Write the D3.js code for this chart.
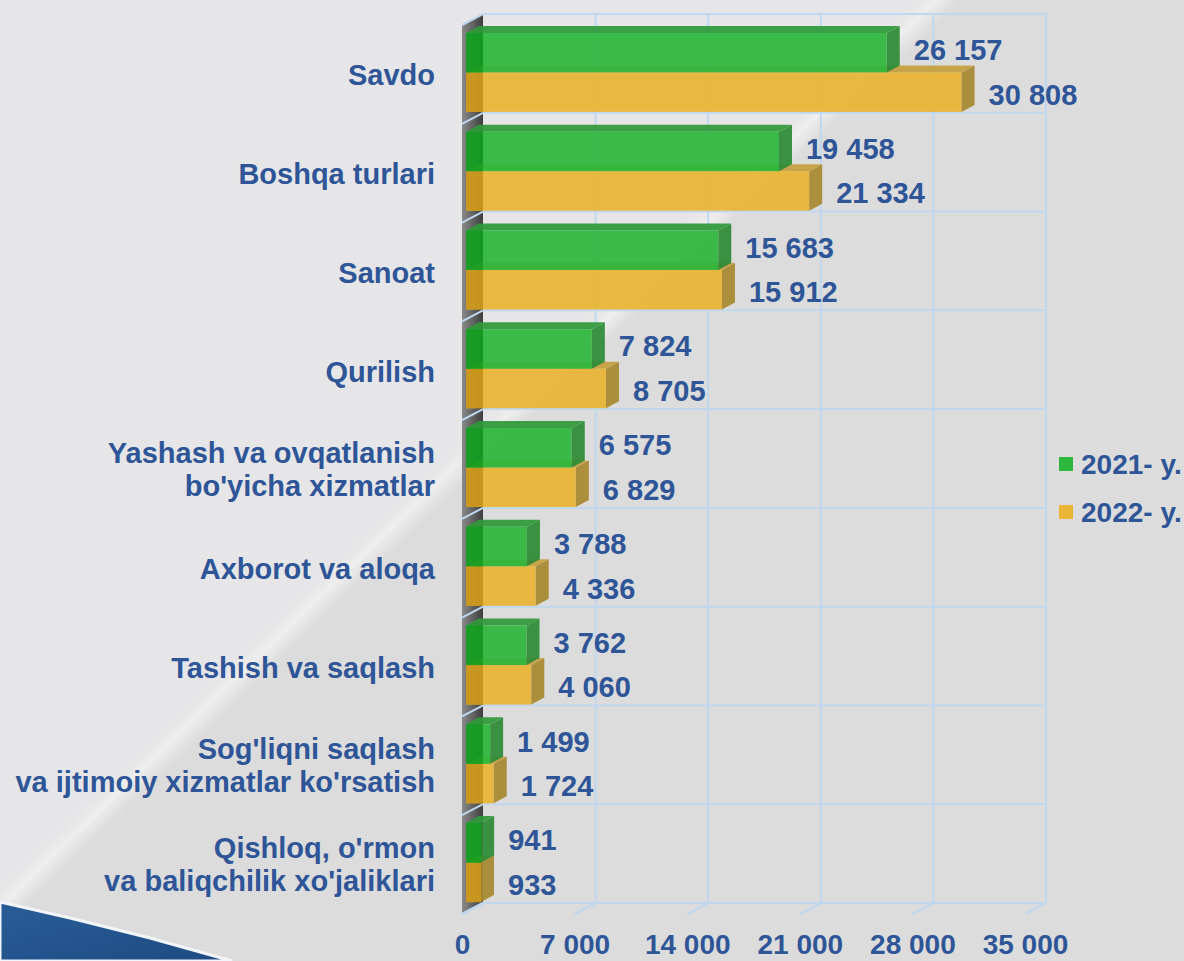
<!DOCTYPE html>
<html>
<head>
<meta charset="utf-8">
<script src="https://cdn.jsdelivr.net/npm/d3@7"></script>
<style>
body { margin: 0; background: #dcdcdc; overflow: hidden; }
text { font-family: "Liberation Sans", Arial, sans-serif; font-weight: bold; fill: #2e5597; }
</style>
</head>
<body>
<div id="chart-area"></div>
<script>
/*
*    3D bar chart, 2021 vs 2022
*/

var categories = [
    ["Savdo"],
    ["Boshqa turlari"],
    ["Sanoat"],
    ["Qurilish"],
    ["Yashash va ovqatlanish", "bo'yicha xizmatlar"],
    ["Axborot va aloqa"],
    ["Tashish va saqlash"],
    ["Sog'liqni saqlash", "va ijtimoiy xizmatlar ko'rsatish"],
    ["Qishloq, o'rmon", "va baliqchilik xo'jaliklari"]
]
var values2021 = [26157, 19458, 15683, 7824, 6575, 3788, 3762, 1499, 941]
var values2022 = [30808, 21334, 15912, 8705, 6829, 4336, 4060, 1724, 933]
var seriesNames = ["2021- y.", "2022- y."]
var tickValues = [0, 7000, 14000, 21000, 28000, 35000]

var width = 1184
var height = 961

// 3d offsets
var wall = {dx: 21, dy: 11}
var barShift = {dx: 4, dy: 2}
var barDepth = {dx: 13, dy: 7}

var colors = [
    {front: "#2eb73d", top: "#2f9a3a", side: "#2f8c37", dark: "#12a020"},
    {front: "#e9b534", top: "#c6a03e", side: "#a98a30", dark: "#d19b1a"}
]

var fmt = d3.formatLocale({decimal: ",", thousands: " ", grouping: [3], currency: ["", ""]}).format(",d")

var svg = d3.select("#chart-area").append("svg")
.attr("width", width)
.attr("height", height)

var defs = svg.append("defs")

var wallGrad = defs.append("linearGradient").attr("id", "wallGrad")
.attr("x1", "0").attr("x2", "1").attr("y1", "0").attr("y2", "0")
wallGrad.append("stop").attr("offset", "0").attr("stop-color", "#8a8a8a")
wallGrad.append("stop").attr("offset", "1").attr("stop-color", "#3e3e3e")

var blur = defs.append("filter").attr("id", "blur").attr("x", "-20%").attr("y", "-20%").attr("width", "140%").attr("height", "140%")
blur.append("feGaussianBlur").attr("stdDeviation", 6)

var cornerGrad = defs.append("linearGradient").attr("id", "cornerGrad")
.attr("x1", "0").attr("x2", "1").attr("y1", "0").attr("y2", "1")
cornerGrad.append("stop").attr("offset", "0").attr("stop-color", "#2a5d98")
cornerGrad.append("stop").attr("offset", "1").attr("stop-color", "#1d4b82")

// BACKGROUND
svg.append("rect").attr("width", width).attr("height", height).attr("fill", "#dcdcdc")
svg.append("polygon")
.attr("points", "0,0 940,0 0,910")
.attr("fill", "#e6e6e8")
svg.append("line")
.attr("x1", 950).attr("y1", -10).attr("x2", -10).attr("y2", 920)
.attr("stroke", "#f4f4f4")
.attr("stroke-width", 12)
.attr("opacity", 0.8)
.attr("filter", "url(#blur)")
svg.append("polygon")
.attr("points", "0,902 70,918 150,938 232,961 0,961")
.attr("fill", "url(#cornerGrad)")
.attr("stroke", "#f2f6fb")
.attr("stroke-width", 3)

// SCALES
var x = d3.scaleLinear()
.domain([0, 35000])
.range([483, 1046])

var y = d3.scaleBand()
.domain(d3.range(categories.length))
.range([14, 903])
.paddingInner(0.2)
.paddingOuter(0.1)

var ySeries = d3.scaleBand()
.domain([0, 1])
.range([0, y.bandwidth()])

var top0 = y.range()[0]
var bottom0 = y.range()[1]
var step = y.step()

var g = svg.append("g")

// left wall
g.append("polygon")
.attr("points", [
    [x(0) - wall.dx, top0 + wall.dy],
    [x(0), top0],
    [x(0), bottom0],
    [x(0) - wall.dx, bottom0 + wall.dy]
].join(" "))
.attr("fill", "url(#wallGrad)")

// GRID
var gridColor = "#bfd8f0"
var rows = d3.range(categories.length + 1).map(i => top0 + i * step)

g.selectAll(".hgrid").data(rows).enter().append("line")
.attr("class", "hgrid")
.attr("x1", x(0)).attr("x2", x(35000))
.attr("y1", d => d).attr("y2", d => d)
.attr("stroke", gridColor).attr("stroke-width", 2)

g.selectAll(".wgrid").data(rows).enter().append("line")
.attr("class", "wgrid")
.attr("x1", x(0)).attr("x2", x(0) - wall.dx)
.attr("y1", d => d).attr("y2", d => d + wall.dy)
.attr("stroke", gridColor).attr("stroke-width", 2)

g.selectAll(".vgrid").data(tickValues.slice(1)).enter().append("line")
.attr("class", "vgrid")
.attr("x1", d => x(d)).attr("x2", d => x(d))
.attr("y1", top0).attr("y2", bottom0)
.attr("stroke", gridColor).attr("stroke-width", 2)

g.selectAll(".fgrid").data(tickValues).enter().append("line")
.attr("class", "fgrid")
.attr("x1", d => x(d)).attr("x2", d => x(d) - wall.dx)
.attr("y1", bottom0).attr("y2", bottom0 + wall.dy)
.attr("stroke", gridColor).attr("stroke-width", 2)

// BARS
var bx = v => x(v) - wall.dx + barShift.dx
var by = i => y(i) + wall.dy - barShift.dy

var bars = []
categories.forEach((c, i) => {
    bars.push({cat: i, s: 1, value: values2022[i]})
    bars.push({cat: i, s: 0, value: values2021[i]})
})

bars.forEach(d => {
    var x0 = bx(0)
    var x1 = bx(d.value)
    var y0 = by(d.cat) + ySeries(d.s)
    var h = ySeries.bandwidth()
    var c = colors[d.s]
    var bg = g.append("g").attr("opacity", 0.93)

    bg.append("polygon")
    .attr("points", [[x0, y0], [x1, y0], [x1 + barDepth.dx, y0 - barDepth.dy], [x0 + barDepth.dx, y0 - barDepth.dy]].join(" "))
    .attr("fill", c.top)

    bg.append("rect")
    .attr("x", x0).attr("y", y0)
    .attr("width", x1 - x0).attr("height", h)
    .attr("fill", c.front)

    bg.append("rect")
    .attr("x", x0).attr("y", y0)
    .attr("width", Math.min(x1, x(0)) - x0).attr("height", h)
    .attr("fill", c.dark)

    bg.append("polygon")
    .attr("points", [[x1, y0], [x1 + barDepth.dx, y0 - barDepth.dy], [x1 + barDepth.dx, y0 + h - barDepth.dy], [x1, y0 + h]].join(" "))
    .attr("fill", c.side)
})

// DATA LABELS
g.selectAll(".value").data(bars).enter().append("text")
.attr("class", "value")
.attr("x", d => bx(d.value) + barDepth.dx + 14)
.attr("y", d => by(d.cat) + ySeries(d.s) + ySeries.bandwidth() / 2 + (d.s == 0 ? -3 : 2) + 10.5)
.attr("font-size", "29px")
.text(d => fmt(d.value))

// CATEGORY LABELS
var labels = g.selectAll(".cat").data(categories).enter().append("text")
.attr("class", "cat")
.attr("text-anchor", "end")
.attr("font-size", "29px")

labels.selectAll("tspan").data((d, i) => d.map((line, j) => ({line: line, j: j, n: d.length, i: i})))
.enter().append("tspan")
.attr("x", 435)
.attr("y", d => by(d.i) + y.bandwidth() / 2 + 13 + (d.n == 2 ? (d.j == 0 ? -18 : 15) : 0))
.text(d => d.line)

// X AXIS
var xFloor = d3.scaleLinear()
.domain(x.domain())
.range(x.range().map(v => v - wall.dx))

var xAxisGroup = g.append("g")
.attr("class", "x axis")
.attr("transform", "translate(0, 954)")
.call(d3.axisBottom(xFloor).tickValues(tickValues).tickFormat(fmt).tickSize(0))

xAxisGroup.select(".domain").remove()
xAxisGroup.selectAll("text")
.attr("y", 0)
.attr("dy", null)
.attr("font-size", "28px")
.attr("font-family", null)
.attr("fill", null)

// LEGEND
var legend = g.selectAll(".legend").data(seriesNames).enter().append("g")
.attr("class", "legend")
.attr("transform", (d, i) => "translate(1059, " + (457 + i * 48) + ")")

legend.append("rect")
.attr("width", 14).attr("height", 14)
.attr("fill", (d, i) => colors[i].front)

legend.append("text")
.attr("x", 22).attr("y", 17)
.attr("font-size", "28px")
.text(d => d)
</script>
</body>
</html>
